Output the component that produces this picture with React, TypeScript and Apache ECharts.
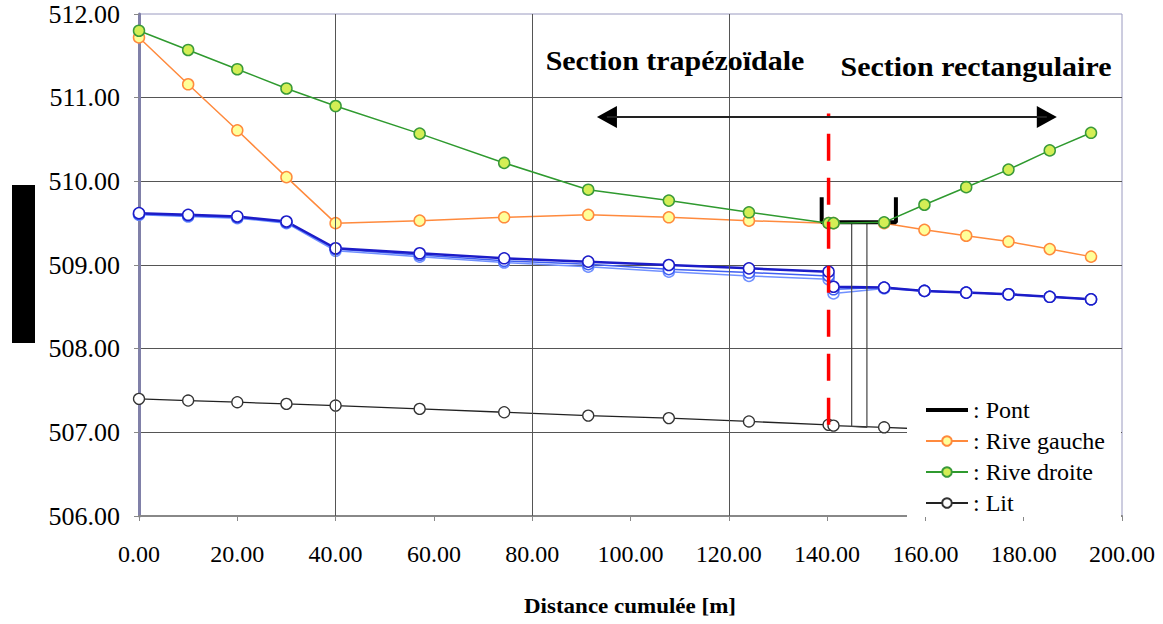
import React, { useEffect, useRef } from "react";
import * as echarts from "echarts";

// ---- Data ----
const distances = [0, 10, 20, 30, 40, 57.1, 74.3, 91.4, 107.8, 124.1, 140.3, 141.3, 151.6, 159.8, 168.3, 176.9, 185.3, 193.7];
const riveGauche = [511.72, 511.16, 510.61, 510.05, 509.5, 509.53, 509.57, 509.6, 509.57, 509.53, 509.5, 509.5, 509.5, 509.42, 509.35, 509.28, 509.19, 509.1];
const riveDroite = [511.8, 511.57, 511.34, 511.11, 510.9, 510.57, 510.22, 509.9, 509.77, 509.63, 509.5, 509.5, 509.51, 509.72, 509.93, 510.14, 510.37, 510.58];
const eau1 = [509.62, 509.6, 509.58, 509.52, 509.2, 509.14, 509.08, 509.04, 509.0, 508.96, 508.92, 508.74, 508.73, 508.69, 508.67, 508.65, 508.62, 508.59];
const eau2 = [509.61, 509.59, 509.57, 509.51, 509.19, 509.12, 509.05, 509.01, 508.95, 508.91, 508.87, 508.71, 508.73, 508.69, 508.67, 508.65, 508.62, 508.59];
const eau3 = [509.6, 509.58, 509.56, 509.5, 509.17, 509.1, 509.03, 508.98, 508.92, 508.87, 508.83, 508.66, 508.72, 508.69, 508.67, 508.65, 508.62, 508.59];
const litDistances = [0, 10, 20, 30, 40, 57.1, 74.3, 91.4, 107.8, 124.1, 140.3, 141.3, 151.6, 159.8];
const lit = [507.4, 507.38, 507.36, 507.34, 507.32, 507.28, 507.24, 507.2, 507.17, 507.13, 507.09, 507.08, 507.06, 507.04];
const pontX = [138.9, 138.9, 154.0, 154.0];
const pontY = [509.81, 509.51, 509.51, 509.81];
const pileX = [145.0, 145.0, 148.1, 148.1];
const pileY = [509.51, 507.07, 507.06, 509.51];
const limiteX = [140.3, 140.3];
const limiteY = [507.09, 510.81];
const flecheX = [95.2, 184.7];
const flecheY = [510.77, 510.77];
const gridX = [40, 80, 120];
const legendNames = ["Pont", "Rive gauche", "Rive droite", "Lit"];
const sectionLabels = ["Section trapézoïdale", "Section rectangulaire"];
const xTitle = "Distance cumulée [m]";

const FONT = "Liberation Serif, Times New Roman, serif";

const pairs = (xs: number[], ys: number[]) => xs.map((x, i) => [x, ys[i]]);

export default function App() {
  const ref = useRef<HTMLDivElement>(null);
  useEffect(() => {
    if (!ref.current) return;
    const chart = echarts.init(ref.current, undefined, { renderer: "svg" });
    const waterSeries = (name: string, ys: number[], color: string, width: number, z: number) => ({
      name,
      type: "line",
      data: pairs(distances, ys),
      symbol: "circle",
      symbolSize: 11,
      z,
      lineStyle: { color, width },
      itemStyle: { color: "#ffffff", borderColor: color, borderWidth: 1.5 },
    });
    const option: any = {
      animation: false,
      backgroundColor: "#ffffff",
      textStyle: { fontFamily: FONT },
      grid: { left: 139, right: 41, top: 14, bottom: 108, show: true, borderColor: "#9a9ac0", borderWidth: 1 },
      xAxis: {
        type: "value",
        min: 0,
        max: 200,
        interval: 20,
        axisLine: { show: true, lineStyle: { color: "#888888", width: 2 } },
        axisTick: { show: true, length: 5, lineStyle: { color: "#888888" } },
        splitLine: { show: false },
        axisLabel: {
          formatter: (v: number) => v.toFixed(2),
          fontFamily: FONT,
          fontSize: 24,
          color: "#000",
          margin: 26,
        },
      },
      yAxis: {
        type: "value",
        min: 506,
        max: 512,
        interval: 1,
        axisLine: { show: true, lineStyle: { color: "#8080a8", width: 3 } },
        axisTick: { show: true, length: 5, lineStyle: { color: "#888888" } },
        splitLine: { show: true, showMaxLine: false, lineStyle: { color: "#555555", width: 1 } },
        axisLabel: {
          formatter: (v: number) => v.toFixed(2),
          fontFamily: FONT,
          fontSize: 26,
          color: "#000",
          margin: 19,
        },
      },
      legend: {
        data: [
          { name: legendNames[0], icon: "path://M0,5L42,5L42,9L0,9Z" },
          legendNames[1],
          legendNames[2],
          legendNames[3],
        ],
        orient: "vertical",
        left: 920,
        top: 393,
        itemWidth: 42,
        itemHeight: 12,
        itemGap: 7,
        selectedMode: false,
        formatter: ": {name}",
        textStyle: { fontFamily: FONT, fontSize: 24, color: "#000", padding: [10, 0, 0, 0] },
        z: 20,
      },
      graphic: [
        { type: "rect", shape: { x: 12, y: 185, width: 23, height: 158 }, style: { fill: "#000" } },
        { type: "rect", z: 10, shape: { x: 907, y: 386, width: 214, height: 131 }, style: { fill: "#fff" } },
        {
          type: "text",
          x: 675,
          y: 60,
          scaleX: 1.07,
          z: 10,
          style: { text: sectionLabels[0], textAlign: "center", textVerticalAlign: "middle", font: `bold 28px ${FONT}`, fill: "#000" },
        },
        {
          type: "text",
          x: 976,
          y: 66,
          scaleX: 1.07,
          z: 10,
          style: { text: sectionLabels[1], textAlign: "center", textVerticalAlign: "middle", font: `bold 28px ${FONT}`, fill: "#000" },
        },
        {
          type: "text",
          x: 630,
          y: 607,
          scaleX: 1.15,
          z: 10,
          style: { text: xTitle, textAlign: "center", textVerticalAlign: "middle", font: `bold 20px ${FONT}`, fill: "#000" },
        },
      ],
      series: [
        {
          name: "grille",
          type: "line",
          data: [[0, 506]],
          symbol: "none",
          silent: true,
          z: 1,
          lineStyle: { width: 0 },
          markLine: {
            silent: true,
            symbol: ["none", "none"],
            label: { show: false },
            lineStyle: { color: "#555555", width: 1, type: "solid" },
            data: gridX.map((x) => ({ xAxis: x })),
          },
        },
        waterSeries("Ligne d'eau 3", eau3, "#7090ff", 1.5, 3),
        waterSeries("Ligne d'eau 2", eau2, "#3f5ff2", 1.5, 3),
        waterSeries("Ligne d'eau 1", eau1, "#1c1cc8", 2.5, 3),
        {
          name: "Lit",
          type: "line",
          data: pairs(litDistances, lit),
          symbol: "circle",
          symbolSize: 11,
          z: 3,
          lineStyle: { color: "#222222", width: 1.3 },
          itemStyle: { color: "#ffffff", borderColor: "#333333", borderWidth: 1.3 },
        },
        {
          name: "Piles",
          type: "line",
          data: pairs(pileX, pileY),
          symbol: "none",
          z: 3,
          lineStyle: { color: "#444444", width: 1.2 },
        },
        {
          name: "Rive gauche",
          type: "line",
          data: pairs(distances, riveGauche),
          symbol: "circle",
          symbolSize: 11,
          z: 4,
          lineStyle: { color: "#ff8a3d", width: 1.5 },
          itemStyle: { color: "#ffff99", borderColor: "#ff8a3d", borderWidth: 1.5 },
        },
        {
          name: "Pont",
          type: "line",
          data: pairs(pontX, pontY),
          symbol: "none",
          z: 4,
          lineStyle: { color: "#000000", width: 4 },
          itemStyle: { color: "#000000" },
        },
        {
          name: "Rive droite",
          type: "line",
          data: pairs(distances, riveDroite),
          symbol: "circle",
          symbolSize: 11,
          z: 5,
          lineStyle: { color: "#2f9a2f", width: 1.5 },
          itemStyle: { color: "#d4ee55", borderColor: "#3a9a3a", borderWidth: 1.5 },
        },
        {
          name: "Limite",
          type: "line",
          data: pairs(limiteX, limiteY),
          symbol: "none",
          z: 6,
          lineStyle: { color: "#ff0000", width: 3.5, type: [27, 17] },
        },
        {
          name: "Flèche",
          type: "line",
          data: pairs(flecheX, flecheY),
          symbol: "none",
          z: 6,
          lineStyle: { color: "#222222", width: 2 },
          markPoint: {
            silent: true,
            symbol: "triangle",
            symbolSize: [22, 20],
            label: { show: false },
            itemStyle: { color: "#000000" },
            data: [
              { coord: [flecheX[0], flecheY[0]], symbolRotate: 90 },
              { coord: [flecheX[1], flecheY[1]], symbolRotate: -90 },
            ],
          },
        },
      ],
    };
    chart.setOption(option);
    return () => chart.dispose();
  }, []);
  return <div ref={ref} style={{ position: "absolute", left: 0, top: 0, width: 1163, height: 624 }} />;
}
